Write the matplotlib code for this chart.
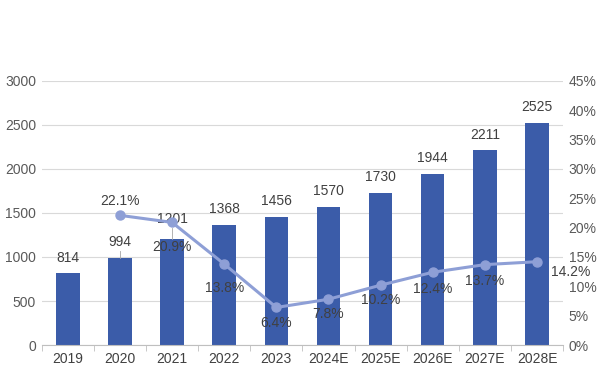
import matplotlib
matplotlib.use("Agg")
import matplotlib.pyplot as plt
import numpy as np

plt.rcParams['font.family'] = ['Liberation Sans', 'DejaVu Sans']

years = ["2019", "2020", "2021", "2022", "2023", "2024E", "2025E", "2026E", "2027E", "2028E"]
values = [814, 994, 1201, 1368, 1456, 1570, 1730, 1944, 2211, 2525]
growth_years = years[1:]
growth = [22.1, 20.9, 13.8, 6.4, 7.8, 10.2, 12.4, 13.7, 14.2]

bar_color = "#3b5ca9"
line_color = "#8e9fd6"
text_color = "#404040"
tick_color = "#595959"
fs = 10

fig = plt.figure(figsize=(6.0, 3.79), dpi=100)
ax = fig.add_axes([0.0695, 0.0897, 0.869, 0.6966])
x = np.arange(len(years))
ax.bar(x, values, width=0.45, color=bar_color, zorder=2)
ax.set_ylim(0, 3000)
ax.set_xlim(-0.5, len(years) - 0.5)
ax.set_yticks(np.arange(0, 3001, 500))
ax.grid(axis='y', color="#d9d9d9", linewidth=0.8, zorder=0)
ax.set_axisbelow(True)
for s in ['top', 'right', 'left']:
    ax.spines[s].set_visible(False)
ax.spines['bottom'].set_color("#bfbfbf")
ax.tick_params(axis='y', length=0, labelsize=fs, colors=tick_color, pad=4)
ax.set_xticks(x)
ax.set_xticklabels(years)
ax.tick_params(axis='x', length=0, labelsize=fs, colors=text_color, pad=5)
ax.set_xticks(np.arange(-0.5, len(years), 1), minor=True)
ax.tick_params(axis='x', which='minor', length=4, color="#bfbfbf")

# data-label placement (offset in data units above bar top)
bar_label_offset = {994: 100, 1201: 150}
for xi, v in zip(x, values):
    off = bar_label_offset.get(v, 100)
    if v in (994, 1201):
        ax.plot([xi, xi], [v, v + off - 25], color="#a6a6a6", linewidth=0.6, zorder=3)
    ax.text(xi, v + off, str(v), ha='center', va='bottom', fontsize=fs, color=text_color, zorder=5)

ax2 = ax.twinx()
ax2.set_ylim(0, 45)
ax2.set_yticks(np.arange(0, 46, 5))
ax2.set_yticklabels([f"{t}%" for t in range(0, 46, 5)])
for s in ['top', 'right', 'left', 'bottom']:
    ax2.spines[s].set_visible(False)
ax2.tick_params(axis='y', length=0, labelsize=fs, colors=tick_color, pad=4)
gx = x[1:]
ax2.plot(gx, growth, color=line_color, linewidth=2.2, marker='o', markersize=6.5, zorder=4)

# label offsets (percentage points, centre of label relative to point)
pct_dy = [2.4, -4.2, -4.0, -2.7, -2.5, -2.6, -2.8, -2.8, -1.7]
pct_dx = [0, 0, 0, 0, 0, 0, 0, 0, 0.27]
for i, (xi, g) in enumerate(zip(gx, growth)):
    ha = 'left' if pct_dx[i] else 'center'
    ax2.text(xi + pct_dx[i], g + pct_dy[i], f"{g}%", ha=ha, va='center', fontsize=fs, color=text_color, zorder=5)

fig.savefig("out.png", dpi=100)
